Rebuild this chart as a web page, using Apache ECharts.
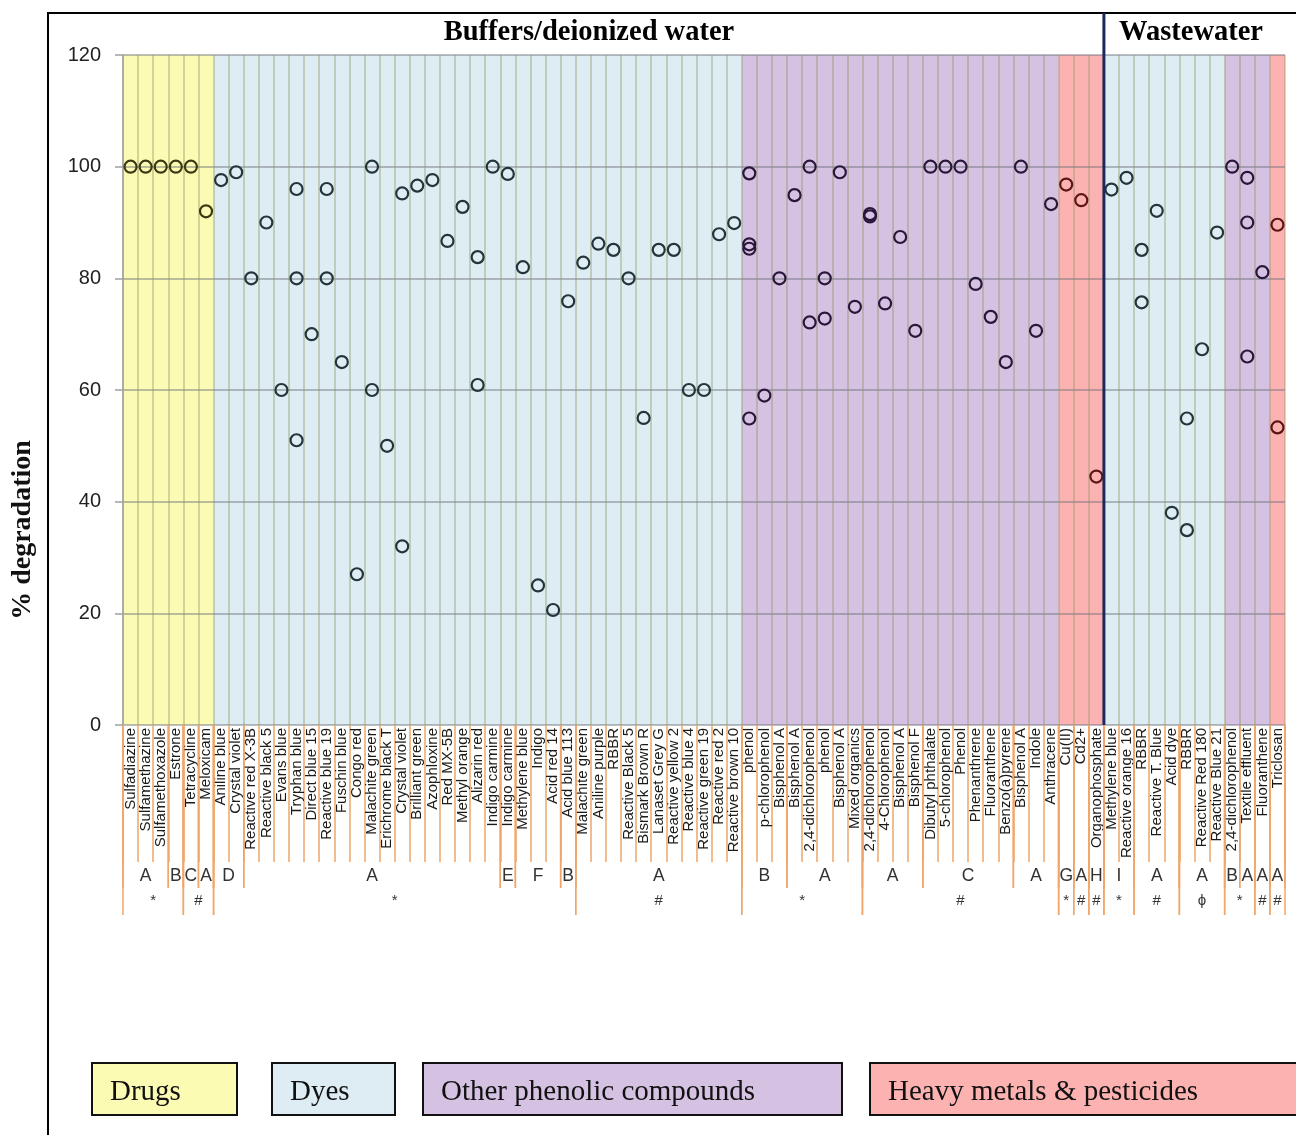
<!DOCTYPE html>
<html>
<head>
<meta charset="utf-8">
<title>% degradation</title>
<script src="https://cdn.jsdelivr.net/npm/echarts@6/dist/echarts.min.js"></script>
<style>
  html, body { margin: 0; padding: 0; background: #fff; }
  #chart { width: 1296px; height: 1135px; }
</style>
</head>
<body>
<div id="chart"></div>
<script>
// buffers / deionized water
const drugNames = ['Sulfadiazine', 'Sulfamethazine', 'Sulfamethoxazole', 'Estrone', 'Tetracycline', 'Meloxicam'];
const drugValues = [[100], [100], [100], [100], [100], [92]];

const dyeNames = ['Aniline blue', 'Crystal violet', 'Reactive red X-3B', 'Reactive black 5', 'Evans blue', 'Tryphan blue',
  'Direct blue 15', 'Reactive blue 19', 'Fuschin blue', 'Congo red', 'Malachite green', 'Erichrome black T',
  'Crystal violet', 'Brilliant green', 'Azophloxine', 'Red MX-5B', 'Methyl orange', 'Alizarin red',
  'Indigo carmine', 'Indigo carmine', 'Methylene blue', 'Indigo', 'Acid red 14', 'Acid blue 113',
  'Malachite green', 'Aniline purple', 'RBBR', 'Reactive Black 5', 'Bismark Brown R', 'Lanaset Grey G',
  'Reactive yellow 2', 'Reactive blue 4', 'Reactive green 19', 'Reactive red 2', 'Reactive brown 10'];
const dyeValues = [[97.6], [99], [80], [90], [60], [96, 80, 51],
  [70], [96, 80], [65], [27], [100, 60], [50],
  [95.2, 32], [96.6], [97.6], [86.7], [92.8], [83.8, 60.9],
  [100], [98.7], [82], [25], [20.6], [75.9],
  [82.8], [86.2], [85.1], [80], [55], [85.1],
  [85.1], [60], [60], [87.9], [89.9]];

const phenolNames = ['phenol', 'p-chlorophenol', 'Bisphenol A', 'Bisphenol A', '2,4-dichlorophenol', 'phenol',
  'Bisphenol A', 'Mixed organics', '2,4-dichlorophenol', '4-Chlorophenol', 'Bisphenol A', 'Bisphenol F',
  'Dibutyl phthalate', '5-chlorophenol', 'Phenol', 'Phenanthrene', 'Fluoranthene', 'Benzo(a)pyrene',
  'Bisphenol A', 'Indole', 'Anthracene'];
const phenolValues = [[98.8, 86.1, 85.3, 54.9], [59], [80], [94.9], [100, 72.1], [80, 72.8],
  [99], [74.9], [91.5, 91.1], [75.5], [87.4], [70.6],
  [100], [100], [100], [79], [73.1], [65],
  [100], [70.6], [93.3]];

const metalNames = ['Cu(II)', 'Cd2+', 'Organophosphate'];
const metalValues = [[96.8], [94], [44.5]];

// wastewater
const wwDyeNames = ['Methylene blue', 'Reactive orange 16', 'RBBR', 'Reactive T. Blue', 'Acid dye', 'RBBR',
  'Reactive Red 180', 'Reactive Blue 21'];
const wwDyeValues = [[95.9], [98], [85.1, 75.7], [92.1], [38], [54.9, 34.9], [67.3], [88.2]];
const wwPhenolNames = ['2,4-dichlorophenol', 'Textile effluent', 'Fluoranthene'];
const wwPhenolValues = [[100], [98, 90, 66], [81.1]];
const wwMetalNames = ['Triclosan'];
const wwMetalValues = [[89.6, 53.3]];

// second and third label rows under the axis: [label, number of columns]
const methodLetters = [['A', 3], ['B', 1], ['C', 1], ['A', 1], ['D', 2], ['A', 17], ['E', 1], ['F', 3], ['B', 1],
  ['A', 11], ['B', 3], ['A', 5], ['A', 4], ['C', 6], ['A', 3], ['G', 1], ['A', 1], ['H', 1], ['I', 2],
  ['A', 3], ['A', 3], ['B', 1], ['A', 1], ['A', 1], ['A', 1]];
const conditionSymbols = [['*', 4], ['#', 2], ['*', 24], ['#', 11], ['*', 8], ['#', 13], ['*', 1], ['#', 1],
  ['#', 1], ['*', 2], ['#', 3], ['\u03d5', 3], ['*', 2], ['#', 1], ['#', 1]];

const yTicks = [0, 20, 40, 60, 80, 100, 120];

const kinds = ['drugs', 'dyes', 'phenolic', 'metals'];
const kindLabels = { drugs: 'Drugs', dyes: 'Dyes', phenolic: 'Other phenolic compounds', metals: 'Heavy metals & pesticides' };
const bandColors = { drugs: '#FBFBB4', dyes: '#DDEDF3', phenolic: '#D5C1E2', metals: '#FDB2B2' };
const markerColors = { drugs: '#3b3912', dyes: '#24343b', phenolic: '#29163a', metals: '#5c1414' };
const sepColor = '#F0A66A';

const blocks = [
  { kind: 'drugs', names: drugNames, values: drugValues },
  { kind: 'dyes', names: dyeNames, values: dyeValues },
  { kind: 'phenolic', names: phenolNames, values: phenolValues },
  { kind: 'metals', names: metalNames, values: metalValues },
  { kind: 'dyes', names: wwDyeNames, values: wwDyeValues, waste: true },
  { kind: 'phenolic', names: wwPhenolNames, values: wwPhenolValues },
  { kind: 'metals', names: wwMetalNames, values: wwMetalValues }
];

const categories = [];
const bands = [];
const points = { drugs: [], dyes: [], phenolic: [], metals: [] };
let wasteStart = 0;
blocks.forEach(b => {
  const start = categories.length;
  if (b.waste) wasteStart = start;
  b.names.forEach((n, i) => {
    b.values[i].forEach(v => points[b.kind].push([start + i, v]));
    categories.push(n);
  });
  bands.push({ start: start, end: categories.length - 1, kind: b.kind });
});

function toSpans(list) {
  let pos = 0;
  return list.map(([label, n]) => {
    const s = { start: pos, end: pos + n - 1, label: label };
    pos += n;
    return s;
  });
}
const letterSpans = toSpans(methodLetters);
const symbolSpans = toSpans(conditionSymbols);

function spanEdges(api, start, end) {
  const bw = api.size([1, 0])[0];
  const a = api.coord([start, 0]);
  const b = api.coord([end, 0]);
  return { x0: a[0] - bw / 2, x1: b[0] + bw / 2, y: a[1] };
}

function rowRenderer(spans, len, textDy, font) {
  return function (params, api) {
    const g = spans[params.dataIndex];
    const e = spanEdges(api, g.start, g.end);
    const line = x => ({ type: 'line', shape: { x1: x, y1: e.y, x2: x, y2: e.y + len },
      style: { stroke: sepColor, lineWidth: 1.5 } });
    return {
      type: 'group',
      children: [line(e.x0), line(e.x1), {
        type: 'text', x: (e.x0 + e.x1) / 2, y: e.y + textDy,
        style: { text: g.label, font: font, fill: '#333', align: 'center', verticalAlign: 'middle' }
      }]
    };
  };
}

const chart = echarts.init(document.getElementById('chart'));

const scatterSeries = kinds.map(k => ({
  name: kindLabels[k],
  type: 'scatter',
  data: points[k],
  symbol: 'circle',
  symbolSize: 12,
  z: 4,
  itemStyle: { color: 'rgba(0,0,0,0)', borderColor: markerColors[k], borderWidth: 2.2, opacity: 1 }
}));

const legendBoxes = [
  { kind: 'drugs', x: 92, w: 145 },
  { kind: 'dyes', x: 272, w: 123 },
  { kind: 'phenolic', x: 423, w: 419 },
  { kind: 'metals', x: 870, w: 440 }
];

const option = {
  backgroundColor: '#fff',
  animation: false,
  grid: { left: 123, right: 11, top: 55, bottom: 410 },
  xAxis: {
    type: 'category',
    data: categories,
    boundaryGap: true,
    axisLine: { show: false },
    axisTick: { show: true, interval: 0, length: 137, lineStyle: { color: sepColor, width: 1.5 } },
    axisLabel: {
      interval: 0, rotate: 90, margin: 3,
      fontFamily: 'Liberation Sans', fontSize: 15, color: '#1a1a1a'
    },
    splitLine: { show: true, interval: 0, lineStyle: { color: 'rgba(140,150,100,0.42)', width: 1.8 } }
  },
  yAxis: {
    type: 'value',
    min: yTicks[0],
    max: yTicks[yTicks.length - 1],
    interval: 20,
    axisLine: { show: true, lineStyle: { color: '#a0a0a0', width: 1.5 } },
    axisTick: { show: true, length: 8, lineStyle: { color: '#a0a0a0', width: 1.5 } },
    axisLabel: { margin: 22, fontFamily: 'Liberation Sans', fontSize: 20, color: '#222' },
    splitLine: { show: true, lineStyle: { color: 'rgba(105,110,120,0.6)', width: 1.5 } }
  },
  series: [
    {
      type: 'custom',
      name: 'bands',
      silent: true,
      z: -1,
      data: bands.map(b => [b.start, b.end, 0]),
      encode: { x: [0, 1], y: 2 },
      renderItem: function (params, api) {
        const b = bands[params.dataIndex];
        const e = spanEdges(api, b.start, b.end);
        const top = api.coord([b.start, yTicks[yTicks.length - 1]])[1];
        return { type: 'rect', shape: { x: e.x0, y: top, width: e.x1 - e.x0, height: e.y - top },
          style: { fill: bandColors[b.kind] } };
      }
    },
    {
      type: 'custom',
      name: 'divider',
      silent: true,
      clip: false,
      z: 5,
      data: [[wasteStart, 0]],
      encode: { x: 0, y: 1 },
      renderItem: function (params, api) {
        const e = spanEdges(api, wasteStart, wasteStart);
        const top = api.coord([wasteStart, yTicks[yTicks.length - 1]])[1] - 42;
        return { type: 'line', shape: { x1: e.x0, y1: e.y, x2: e.x0, y2: top },
          style: { stroke: '#1b2a5c', lineWidth: 3 } };
      }
    },
    {
      type: 'custom',
      name: 'letters',
      silent: true,
      clip: false,
      z: 3,
      data: letterSpans.map(s => [s.start, s.end, 0]),
      encode: { x: [0, 1], y: 2 },
      renderItem: rowRenderer(letterSpans, 163, 151, '17.5px "Liberation Sans"')
    },
    {
      type: 'custom',
      name: 'symbols',
      silent: true,
      clip: false,
      z: 3,
      data: symbolSpans.map(s => [s.start, s.end, 0]),
      encode: { x: [0, 1], y: 2 },
      renderItem: rowRenderer(symbolSpans, 190, 176, '15px "Liberation Sans"')
    }
  ].concat(scatterSeries),
  graphic: [
    { type: 'rect', silent: true, shape: { x: 48, y: 13, width: 1400, height: 1300 },
      style: { fill: 'none', stroke: '#000', lineWidth: 2 } },
    { type: 'text', x: 589, y: 33,
      style: { text: 'Buffers/deionized water', font: 'bold 28.5px "Liberation Serif"', fill: '#000', align: 'center', verticalAlign: 'middle' } },
    { type: 'text', x: 1191, y: 33,
      style: { text: 'Wastewater', font: 'bold 28.5px "Liberation Serif"', fill: '#000', align: 'center', verticalAlign: 'middle' } },
    { type: 'text', x: 23, y: 530, rotation: Math.PI / 2,
      style: { text: '% degradation', font: 'bold 28px "Liberation Serif"', fill: '#111', align: 'center', verticalAlign: 'middle' } }
  ].concat(legendBoxes.flatMap(b => [
    { type: 'rect', shape: { x: b.x, y: 1063, width: b.w, height: 52 },
      style: { fill: bandColors[b.kind], stroke: '#111', lineWidth: 2 } },
    { type: 'text', x: b.x + 18, y: 1092,
      style: { text: kindLabels[b.kind], font: '29px "Liberation Serif"', fill: '#111', align: 'left', verticalAlign: 'middle' } }
  ]))
};

chart.setOption(option);
</script>
</body>
</html>
